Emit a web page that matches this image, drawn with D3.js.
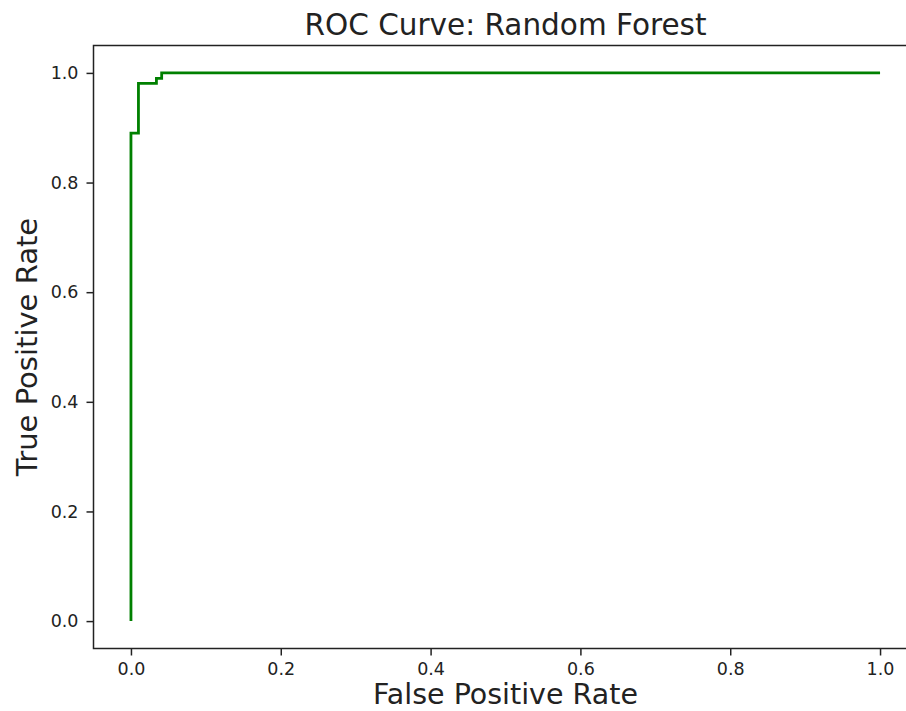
<!DOCTYPE html>
<html>
<head>
<meta charset="utf-8">
<script src="https://cdn.jsdelivr.net/npm/d3@7"></script>
<style>
  body { margin: 0; background: #fff; }
  svg { display: block; font-family: 'DejaVu Sans', sans-serif; }
</style>
</head>
<body>
<svg id="chart" width="906" height="711"></svg>
<script>
// ROC curve points (step curve)
const fpr = [0, 0, 0.01, 0.01, 0.034, 0.034, 0.041, 0.041, 1.0];
const tpr = [0, 0.89, 0.89, 0.981, 0.981, 0.99, 0.99, 1.0, 1.0];
const tickValues = [0, 0.2, 0.4, 0.6, 0.8, 1.0];

const svg = d3.select('#chart');

const x = d3.scaleLinear().domain([-0.05, 1.05]).range([93.5, 917.5]);
const y = d3.scaleLinear().domain([-0.05, 1.05]).range([648.5, 45.5]);

// frame
svg.append('rect')
  .attr('x', x(-0.05)).attr('y', y(1.05))
  .attr('width', x(1.05) - x(-0.05)).attr('height', y(-0.05) - y(1.05))
  .attr('fill', 'none').attr('stroke', '#222').attr('stroke-width', 1.5);

// axes
const xAxis = svg.append('g')
  .attr('transform', `translate(0,${y(-0.05)})`)
  .call(d3.axisBottom(x).tickValues(tickValues).tickFormat(d3.format('.1f')).tickSize(7).tickPadding(7));
const yAxis = svg.append('g')
  .attr('transform', `translate(${x(-0.05)},0)`)
  .call(d3.axisLeft(y).tickValues(tickValues).tickFormat(d3.format('.1f')).tickSize(7).tickPadding(8));

[xAxis, yAxis].forEach(a => {
  a.select('.domain').remove();
  a.selectAll('.tick line').attr('stroke', '#222').attr('stroke-width', 1.5);
  a.selectAll('.tick text').attr('fill', '#222').attr('font-size', 17.5)
    .attr('font-family', 'DejaVu Sans');
});

// curve
const pts = fpr.map((f, i) => [f, tpr[i]]);
svg.append('path')
  .datum(pts)
  .attr('d', d3.line().x(d => x(d[0])).y(d => y(d[1])))
  .attr('fill', 'none')
  .attr('stroke', '#008000')
  .attr('stroke-width', 2.8)
  .attr('stroke-linejoin', 'miter');

// title and labels
svg.append('text')
  .attr('x', (x(-0.05) + x(1.05)) / 2).attr('y', 35)
  .attr('text-anchor', 'middle').attr('font-size', 29.5).attr('fill', '#222')
  .text('ROC Curve: Random Forest');

svg.append('text')
  .attr('x', (x(-0.05) + x(1.05)) / 2).attr('y', 704)
  .attr('text-anchor', 'middle').attr('font-size', 28.5).attr('fill', '#222')
  .text('False Positive Rate');

svg.append('text')
  .attr('transform', `translate(37,${(y(-0.05) + y(1.05)) / 2}) rotate(-90)`)
  .attr('text-anchor', 'middle').attr('font-size', 29).attr('fill', '#222')
  .text('True Positive Rate');
</script>
</body>
</html>
